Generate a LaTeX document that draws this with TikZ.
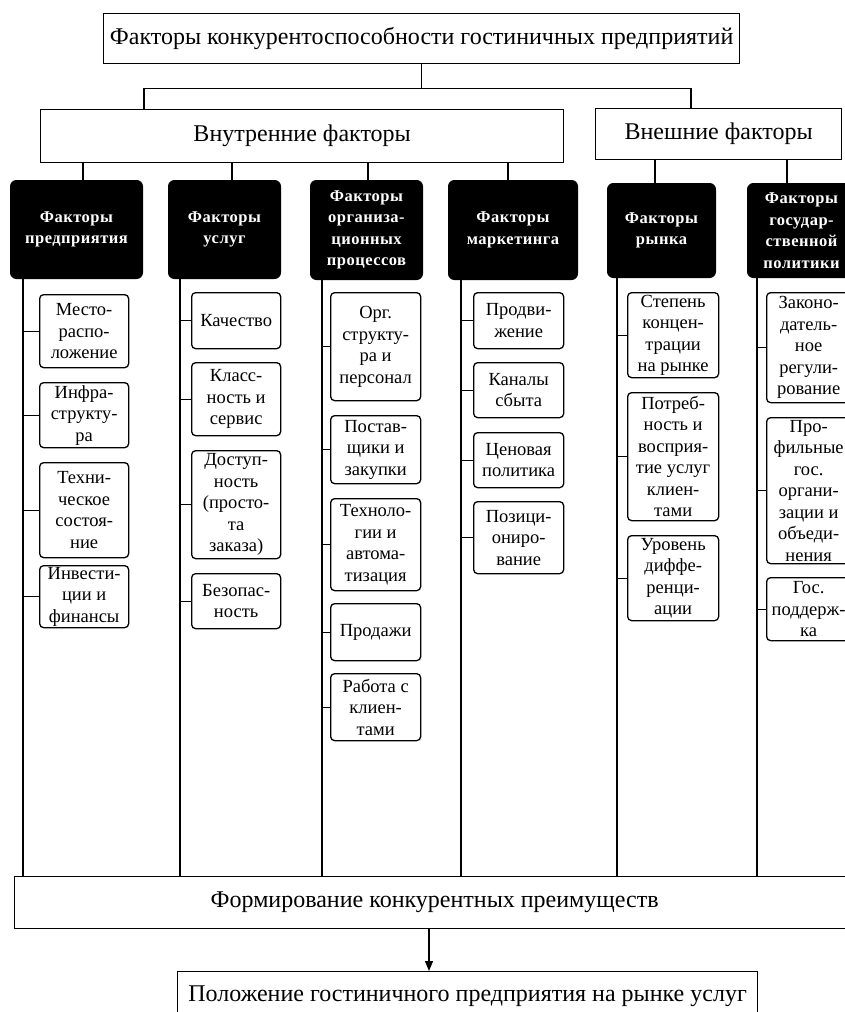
\documentclass[tikz,border=0pt]{standalone}
\usepackage{fontspec}
\setmainfont{Liberation Serif}
\usetikzlibrary{arrows.meta}

\begin{document}
\begin{tikzpicture}[x=1pt,y=-1pt,
  plainbox/.style={draw,line width=1.3pt,inner sep=0pt,anchor=north west,align=center,font=\fontsize{24}{28}\selectfont},
  blackbox/.style={draw,fill=black,text=white,rounded corners=6pt,line width=1pt,inner sep=0pt,anchor=north west,align=center,font=\fontsize{16.5}{21.5}\selectfont\bfseries\addfontfeature{LetterSpace=3}},
  itembox/.style={draw,rounded corners=4pt,line width=1.3pt,inner sep=0pt,anchor=north west,align=center,font=\fontsize{18.5}{21.5}\selectfont},
  link/.style={line width=1.3pt}]

\useasboundingbox (0,0) rectangle (845,1012);
\clip (0,0) rectangle (845,1012);

%x positions of the lines
\coordinate (in0) at (144,0);
\coordinate (ex0) at (691,0);
\coordinate (dr1) at (83,0);
\coordinate (dr2) at (232,0);
\coordinate (dr3) at (368,0);
\coordinate (dr4) at (508,0);
\coordinate (dr5) at (655,0);
\coordinate (dr6) at (787,0);
\coordinate (tk1) at (23,0);
\coordinate (tk2) at (180,0);
\coordinate (tk3) at (322,0);
\coordinate (tk4) at (461,0);
\coordinate (tk5) at (617,0);
\coordinate (tk6) at (757,0);
\coordinate (ar) at (429,0);

% Top boxes
\node[plainbox,minimum width=636pt,minimum height=50pt] (top) at (103,13) {Факторы конкурентоспособности гостиничных предприятий};
\node[plainbox,minimum width=523pt,minimum height=53pt] (inner) at (40,109) {Внутренние факторы};
\node[plainbox,minimum width=246pt,minimum height=51pt] (outer) at (595,108) {Внешние факторы};

% Black boxes
\node[blackbox,minimum width=132pt,minimum height=98pt] (fpr) at (10,180) {Факторы\\предприятия};
\node[blackbox,minimum width=112pt,minimum height=98pt] (fus) at (168,180) {Факторы\\услуг};
\node[blackbox,minimum width=112pt,minimum height=99pt] (fop) at (310,180) {Факторы\\организа-\\ционных\\процессов};
\node[blackbox,minimum width=129pt,minimum height=99pt] (fmk) at (448,180) {Факторы\\маркетинга};
\node[blackbox,minimum width=108pt,minimum height=94pt] (fry) at (607,183) {Факторы\\рынка};
\node[blackbox,minimum width=108pt,minimum height=94pt] (fgp) at (747,183) {Факторы\\государ-\\ственной\\политики};

% Column 1
\node[itembox,minimum width=89pt,minimum height=73pt] (a1) at (39,294) {Место-\\распо-\\ложение};
\node[itembox,minimum width=89pt,minimum height=65pt] (a2) at (39,382) {Инфра-\\структу-\\ра};
\node[itembox,minimum width=89pt,minimum height=95pt] (a3) at (39,462) {Техни-\\ческое\\состоя-\\ние};
\node[itembox,minimum width=89pt,minimum height=62pt] (a4) at (39,565) {Инвести-\\ции и\\финансы};

% Column 2
\node[itembox,minimum width=89pt,minimum height=56pt] (b1) at (191,292) {Качество};
\node[itembox,minimum width=89pt,minimum height=73pt] (b2) at (191,362) {Класс-\\ность и\\сервис};
\node[itembox,minimum width=89pt,minimum height=108pt] (b3) at (191,450) {Доступ-\\ность\\(просто-\\та\\заказа)};
\node[itembox,minimum width=89pt,minimum height=55pt] (b4) at (191,573) {Безопас-\\ность};

% Column 3
\node[itembox,minimum width=90pt,minimum height=108pt] (c1) at (330,292) {Орг.\\структу-\\ра и\\персонал};
\node[itembox,minimum width=90pt,minimum height=68pt] (c2) at (330,415) {Постав-\\щики и\\закупки};
\node[itembox,minimum width=90pt,minimum height=92pt] (c3) at (330,498) {Техноло-\\гии и\\автома-\\тизация};
\node[itembox,minimum width=90pt,minimum height=57pt] (c4) at (330,603) {Продажи};
\node[itembox,minimum width=90pt,minimum height=67pt] (c5) at (330,673) {Работа с\\клиен-\\тами};

% Column 4
\node[itembox,minimum width=90pt,minimum height=56pt] (d1) at (473,292) {Продви-\\жение};
\node[itembox,minimum width=90pt,minimum height=55pt] (d2) at (473,362) {Каналы\\сбыта};
\node[itembox,minimum width=90pt,minimum height=55pt] (d3) at (473,432) {Ценовая\\политика};
\node[itembox,minimum width=90pt,minimum height=72pt] (d4) at (473,501) {Позици-\\ониро-\\вание};

% Column 5
\node[itembox,minimum width=91pt,minimum height=85pt] (e1) at (627,292) {Степень\\концен-\\трации\\на рынке};
\node[itembox,minimum width=91pt,minimum height=128pt] (e2) at (627,392) {Потреб-\\ность и\\восприя-\\тие услуг\\клиен-\\тами};
\node[itembox,minimum width=91pt,minimum height=85pt] (e3) at (627,535) {Уровень\\диффе-\\ренци-\\ации};

% Column 6
\node[itembox,minimum width=84pt,minimum height=110pt] (g1) at (766,292) {Законо-\\датель-\\ное\\регули-\\рование};
\node[itembox,minimum width=84pt,minimum height=146pt] (g2) at (766,417) {Про-\\фильные\\гос.\\органи-\\зации и\\объеди-\\нения};
\node[itembox,minimum width=84pt,minimum height=63pt] (g3) at (766,577) {Гос.\\поддерж-\\ка};

% Bottom boxes
\node[plainbox,minimum width=840pt,minimum height=52pt] (form) at (14,876) {Формирование конкурентных преимуществ};
\node[plainbox,minimum width=580pt,minimum height=50pt] (pos) at (177,971) {Положение гостиничного предприятия на рынке услуг};

% Lines
\draw[link] (top.south) -- ++(0,24) coordinate (hub);
\draw[link] (inner.north -| in0) |- (hub) -| (outer.north -| ex0);
\draw[link] (inner.south -| dr1) -- (fpr.north -| dr1);
\draw[link] (inner.south -| dr2) -- (fus.north -| dr2);
\draw[link] (inner.south -| dr3) -- (fop.north -| dr3);
\draw[link] (inner.south -| dr4) -- (fmk.north -| dr4);
\draw[link] (outer.south -| dr5) -- (fry.north -| dr5);
\draw[link] (outer.south -| dr6) -- (fgp.north -| dr6);

\draw[link] (fpr.south -| tk1) -- (form.north -| tk1);
\draw[link] (fus.south -| tk2) -- (form.north -| tk2);
\draw[link] (fop.south -| tk3) -- (form.north -| tk3);
\draw[link] (fmk.south -| tk4) -- (form.north -| tk4);
\draw[link] (fry.south -| tk5) -- (form.north -| tk5);
\draw[link] (fgp.south -| tk6) -- (form.north -| tk6);

\foreach \n in {a1,a2,a3,a4} \draw[link] (\n.west) -- (\n.west -| tk1);
\foreach \n in {b1,b2,b3,b4} \draw[link] (\n.west) -- (\n.west -| tk2);
\foreach \n in {c1,c2,c3,c4,c5} \draw[link] (\n.west) -- (\n.west -| tk3);
\foreach \n in {d1,d2,d3,d4} \draw[link] (\n.west) -- (\n.west -| tk4);
\foreach \n in {e1,e2,e3} \draw[link] (\n.west) -- (\n.west -| tk5);
\foreach \n in {g1,g2,g3} \draw[link] (\n.west) -- (\n.west -| tk6);

\draw[link,-{Triangle[length=10pt,width=8pt]}] (form.south -| ar) -- (pos.north -| ar);
\end{tikzpicture}
\end{document}
